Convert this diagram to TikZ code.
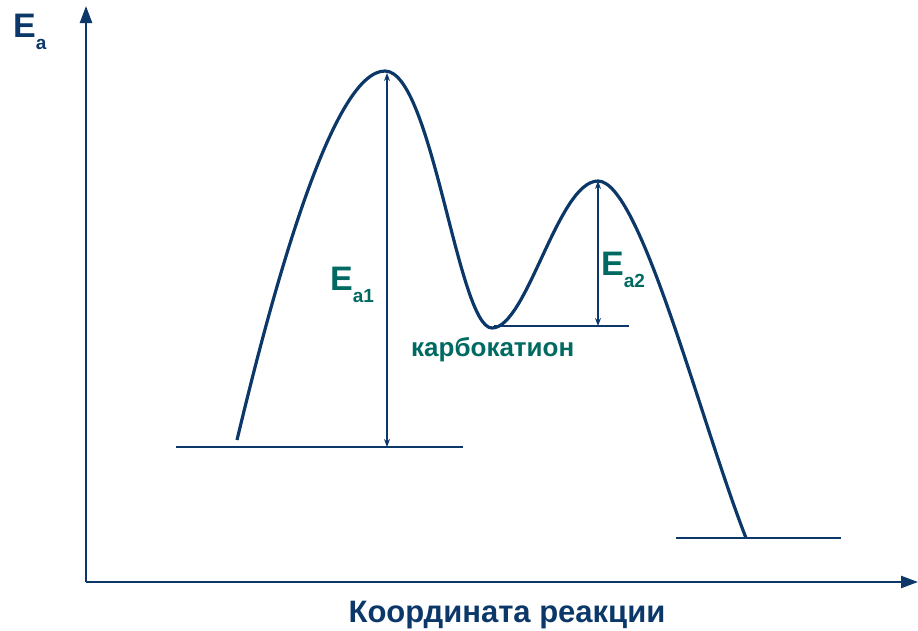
\documentclass[tikz,border=0pt]{standalone}
\usepackage{fontspec}
\setmainfont{Liberation Sans}
\usetikzlibrary{arrows.meta}
\definecolor{navy}{HTML}{0C3869}
\definecolor{tealc}{HTML}{006A62}
\newcommand\subtxt[1]{\raisebox{-12pt}{\bfseries\fontsize{19}{19}\selectfont #1}}
\begin{document}
\begin{tikzpicture}[x=1pt,y=-1pt,
  axis/.style={navy,line width=2.4pt,-{Triangle[length=17pt,width=12pt]}},
  curve/.style={navy,line width=3.2pt},
  level/.style={navy,line width=2pt},
  dim/.style={navy,line width=1.6pt,{Stealth[length=8pt,width=6pt]}-{Stealth[length=8pt,width=6pt]}},
  lbl/.style={tealc,font=\bfseries\fontsize{34}{34}\selectfont,inner sep=0pt}]
\useasboundingbox (0,0) rectangle (918,630);
\coordinate (O) at (86,582);
\coordinate (Ytop) at (86,6);
\coordinate (Xend) at (918,582);
\draw[axis] (O) -- (Ytop);
\draw[axis] (O) -- (Xend);
% levels
\coordinate (R1) at (176,447); \coordinate (R2) at (463,447);
\coordinate (C1) at (494,326); \coordinate (C2) at (629,326);
\coordinate (P1) at (676,538); \coordinate (P2) at (841,538);
\draw[level] (R1) -- (R2);
\draw[level] (C1) -- (C2);
\draw[level] (P1) -- (P2);
% curve
\coordinate (S) at (237,440);
\coordinate (T1) at (385,71);
\coordinate (M) at (492,328);
\coordinate (T2) at (598,181);
\coordinate (E) at (746,538);
\draw[curve] (S) .. controls (278,268) and (335,71) .. (T1)
  .. controls (432,71) and (458,328) .. (M)
  .. controls (527,328) and (558,181) .. (T2)
  .. controls (640,181) and (700,420) .. (E);
% dimension arrows
\coordinate (A1t) at (387,73); \coordinate (A1b) at (387,447);
\coordinate (A2t) at (598,181); \coordinate (A2b) at (598,326);
\draw[dim] (A1t) -- (A1b);
\draw[dim] (A2t) -- (A2b);
% labels
\node[lbl,text=navy,anchor=base west] (ea) at (13,37) {E\subtxt{a}};
\node[lbl,anchor=base west] (ea1) at (330,290) {E\subtxt{a1}};
\node[lbl,anchor=base west] (ea2) at (601,275) {E\subtxt{a2}};
\node[tealc,font=\bfseries\fontsize{26}{26}\selectfont,anchor=base west,inner sep=0pt] (carb) at (411,356) {карбокатион};
\node[navy,font=\bfseries\fontsize{31}{31}\selectfont,anchor=base,inner sep=0pt] (xl) at (507,622) {Координата реакции};
\end{tikzpicture}
\end{document}
